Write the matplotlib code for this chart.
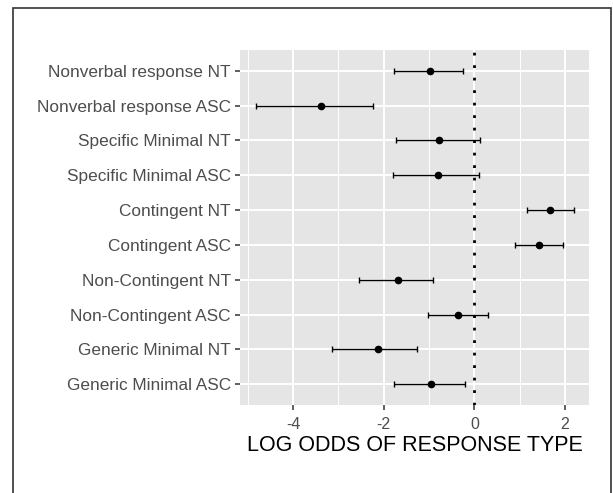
import matplotlib
matplotlib.use("Agg")
from matplotlib import pyplot as plt
from matplotlib.patches import Rectangle
import numpy as np

# categories top to bottom
labels = ["Nonverbal response NT", "Nonverbal response ASC",
          "Specific Minimal NT", "Specific Minimal ASC",
          "Contingent NT", "Contingent ASC",
          "Non-Contingent NT", "Non-Contingent ASC",
          "Generic Minimal NT", "Generic Minimal ASC"]
estimate = [-0.97, -3.38, -0.77, -0.81, 1.68, 1.43, -1.69, -0.35, -2.12, -0.95]
lower = [-1.77, -4.81, -1.72, -1.80, 1.16, 0.90, -2.55, -1.02, -3.13, -1.77]
upper = [-0.26, -2.24, 0.12, 0.10, 2.20, 1.95, -0.92, 0.31, -1.27, -0.21]
x_ticks = [-4, -2, 0, 2]

plt.rcParams['font.family'] = ['Liberation Sans', 'DejaVu Sans']

fig = plt.figure(figsize=(6.13, 4.93), dpi=100)
ax = fig.add_axes([240 / 613, 1 - 405 / 493, 349 / 613, 355 / 493])

# outer frame
fig.patches.append(Rectangle((12.5 / 613, -0.05), 598.5 / 613, 1.05 - 8.5 / 493,
                             transform=fig.transFigure, fill=False,
                             edgecolor="#333333", linewidth=1.2))

n = len(labels)
y = np.arange(n)[::-1]
est = np.array(estimate)
lo = np.array(lower)
hi = np.array(upper)

ax.set_facecolor("#e5e5e5")
for v in [-5, -3, -1, 1]:
    ax.axvline(v, color="white", linewidth=0.7, zorder=0)
for v in x_ticks:
    ax.axvline(v, color="white", linewidth=1.4, zorder=0)
for yy in y:
    ax.axhline(yy, color="white", linewidth=1.4, zorder=0)

ax.axvline(0, color="black", linestyle=(0, (1, 3.5)), linewidth=2, zorder=2)

ax.errorbar(est, y, xerr=[est - lo, hi - est], fmt="o", color="black",
            ecolor="black", elinewidth=1, capsize=2.5, capthick=1,
            markersize=4.5, zorder=3)

ax.set_xlim(-5.17, 2.53)
ax.set_ylim(-0.6, n - 0.4)
ax.set_xticks(x_ticks)
ax.set_xticklabels([str(t) for t in x_ticks])
ax.set_yticks(y)
ax.set_yticklabels(labels)
ax.tick_params(axis="both", colors="#333333", length=3.5, width=1.1,
               labelcolor="#4d4d4d")
ax.tick_params(axis="y", labelsize=12.4, pad=3)
ax.tick_params(axis="x", labelsize=11.5, pad=5)
for s in ax.spines.values():
    s.set_visible(False)

ax.set_xlabel("LOG ODDS OF RESPONSE TYPE", fontsize=15.5, color="black", labelpad=2)

fig.savefig("out.png", dpi=100)
